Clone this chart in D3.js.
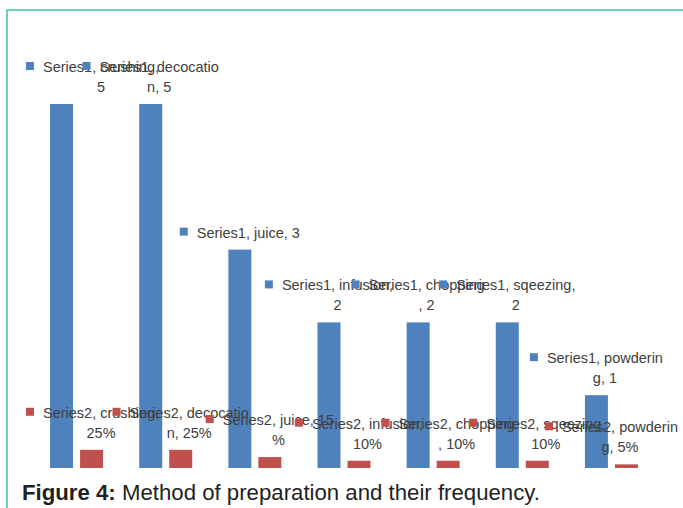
<!DOCTYPE html>
<html><head><meta charset="utf-8">
<script src="https://cdn.jsdelivr.net/npm/d3@7"></script>
<style>body{margin:0;background:#fff}svg{display:block}</style>
</head><body>
<svg id="c" width="683" height="508"></svg>
<script>
const categories = ["crushing","decocation","juice","infusion","chopping","sqeezing","powdering"];
const seriesNames = ["Series1","Series2"];
const series1 = [5,5,3,2,2,2,1];
const series2 = [0.25,0.25,0.15,0.10,0.10,0.10,0.05];
// data labels as wrapped in the original (category name, value)
const s1LabelLines = [["Series1, crushing,","5"],["Series1, decocatio","n, 5"],["Series1, juice, 3"],["Series1, infusion,","2"],["Series1, chopping",", 2"],["Series1, sqeezing,","2"],["Series1, powderin","g, 1"]];
const s2LabelLines = [["Series2, crushing,","25%"],["Series2, decocatio","n, 25%"],["Series2, juice, 15","%"],["Series2, infusion,","10%"],["Series2, chopping",", 10%"],["Series2, sqeezing,","10%"],["Series2, powderin","g, 5%"]];
const captionBold = "Figure 4:";
const captionText = " Method of preparation and their frequency.";

const colors = {Series1:"#4F81BD", Series2:"#C0504D"};
const svg = d3.select("#c");

// frame
svg.append("path").attr("d","M7,508 L7,10 L683,10").attr("fill","none")
  .attr("stroke","#3fbfa9").attr("stroke-width",1.5);

const x = d3.scaleBand().domain(categories).range([32,656]);
const xs = d3.scaleBand().domain(seriesNames).range([0,x.bandwidth()]).paddingInner(7/30).paddingOuter(0.602);
const y = d3.scaleLinear().domain([0,5]).range([468,104]);

const rows = categories.map((c,i)=>({cat:c, vals:[{s:"Series1",v:series1[i],lines:s1LabelLines[i]},{s:"Series2",v:series2[i],lines:s2LabelLines[i]}]}));

const g = svg.append("g");
rows.forEach(r=>{
  r.vals.forEach(d=>{
    g.append("rect").attr("x",x(r.cat)+xs(d.s)).attr("y",y(d.v))
     .attr("width",xs.bandwidth()).attr("height",y(0)-y(d.v)).attr("fill",colors[d.s]);
  });
});

// labels
const lg = svg.append("g").attr("font-family","'Liberation Sans', Arial, sans-serif").attr("font-size","14.5px").attr("fill","#404040");
const items = [];
rows.forEach(r=>r.vals.forEach(d=>items.push({cat:r.cat,...d})));
items.forEach(d=>{
  const cx = x(d.cat)+xs(d.s)+xs.bandwidth()/2;
  const top = y(d.v);
  const grp = lg.append("g");
  const texts = d.lines.map(t=>grp.append("text").text(t).attr("text-anchor","middle"));
  const widths = texts.map(t=>t.node().getComputedTextLength());
  const tw = d3.max(widths);
  const bw = 8+9+tw;
  let left = cx - bw/2;
  if (left < 26) left = 26;
  if (left + bw > 678) left = 678 - bw;
  const tc = left + 17 + tw/2;
  const n = d.lines.length;
  const base1 = top - 12 - 20*(n-1);
  texts.forEach((t,i)=>t.attr("x",tc).attr("y",base1+20*i));
  grp.insert("rect","text").attr("x",left).attr("y",base1-10).attr("width",8).attr("height",8).attr("fill",colors[d.s]);
});

// caption
const cap = svg.append("text").attr("x",22).attr("y",500)
  .attr("font-family","'Liberation Sans', Arial, sans-serif").attr("font-size","20px").attr("fill","#231f20");
cap.append("tspan").attr("font-weight","bold").text(captionBold);
cap.append("tspan").text(captionText);
const w = cap.node().getComputedTextLength();
cap.attr("font-size", (20*518/w).toFixed(2)+"px");
</script>
</body></html>
